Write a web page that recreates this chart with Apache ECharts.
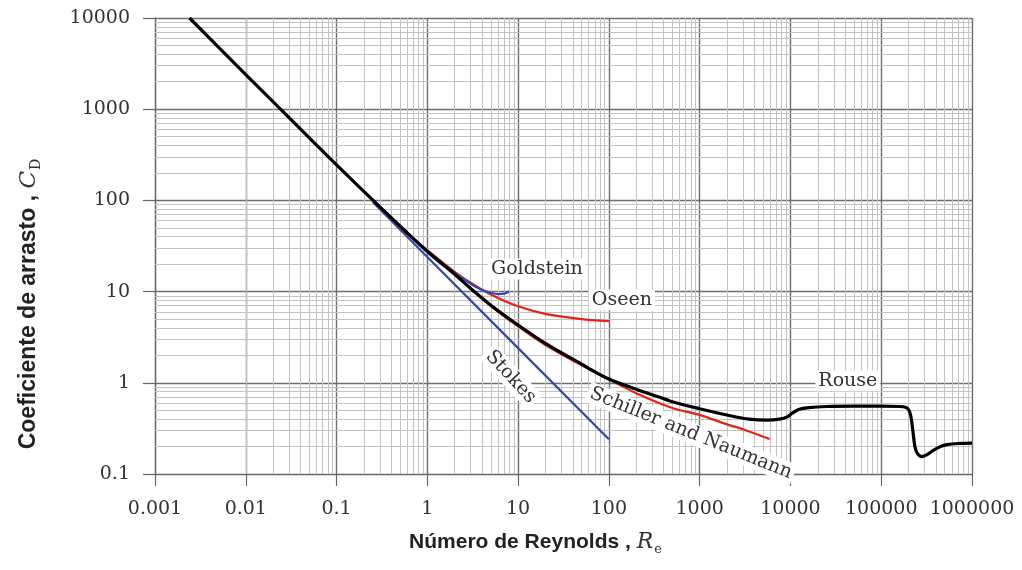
<!DOCTYPE html>
<html><head><meta charset="utf-8">
<script src="https://cdn.jsdelivr.net/npm/echarts@6/dist/echarts.min.js"></script>
<style>html,body{margin:0;padding:0;background:#fff}#c{width:1022px;height:570px}</style>
</head><body><div id="c"></div>
<script>
// ---- data ----
const xTickLabels = ['0.001','0.01','0.1','1','10','100','1000','10000','100000','1000000'];
const yTickLabels = ['0.1','1','10','100','1000','10000'];

// standard drag curve (black)
const blackRe = [0.0024, 0.01, 0.03, 0.1, 0.3, 1, 2, 3, 5, 10, 20, 50, 100, 200, 300, 500, 1000, 2300, 3500, 5500, 7600, 9100, 10500, 12300, 16000, 25000, 50000, 100000, 160000, 185000, 200000, 212000, 223000, 235000, 250000, 280000, 320000, 370000, 450000, 530000, 700000, 1000000];
const blackCd = [10000, 2400, 810, 245, 85, 27.5, 15.5, 10.8, 7.1, 4.3, 2.7, 1.6, 1.1, 0.85, 0.74, 0.62, 0.52, 0.43, 0.40, 0.39, 0.40, 0.42, 0.465, 0.51, 0.535, 0.55, 0.555, 0.555, 0.55, 0.54, 0.51, 0.43, 0.3, 0.2, 0.168, 0.155, 0.163, 0.18, 0.2, 0.21, 0.216, 0.218];

// Stokes (blue)
const stokesRe = [0.25, 1, 10, 100];
const stokesCd = [96, 24, 2.4, 0.24];

// Goldstein (blue)
const goldRe = [0.3, 0.5, 1, 2, 3, 4, 5, 6, 7, 8];
const goldCd = [84, 52, 28.2, 16.1, 12.2, 10.4, 9.7, 9.4, 9.5, 10];

// Oseen (red)
const oseenRe = [0.3, 0.5, 1, 2, 3, 5, 10, 20, 50, 100];
const oseenCd = [84.5, 50.3, 28.5, 16.5, 12.5, 9.3, 6.9, 5.7, 5.0, 4.74];

// Schiller and Naumann (red)
const snRe = [1, 2, 5, 10, 20, 50, 100, 200, 500, 1000, 2000, 3000, 5900];
const snCd = [27.6, 15.5, 6.98, 4.15, 2.6, 1.56, 1.09, 0.77, 0.53, 0.445, 0.35, 0.31, 0.242];

// curve annotations (data coordinates)
const annNames = ['Goldstein', 'Oseen', 'Stokes', 'Schiller and Naumann', 'Rouse'];
const annRe = [16.1, 139, 8.3, 800, 42900];
const annCd = [17.7, 8.1, 1.16, 0.28, 1.05];
const annRot = [0, 0, -47, -22, 0];

// ---- chart ----
const zip = (a, b) => a.map((v, i) => [v, b[i]]);
const mults = [2, 3, 4, 5, 6, 7, 8, 9];
const minorX = [], minorY = [];
for (let e = -3; e < 6; e++) mults.forEach(m => minorX.push({xAxis: m * Math.pow(10, e)}));
for (let e = -1; e < 4; e++) mults.forEach(m => minorY.push({yAxis: m * Math.pow(10, e)}));

const serif = "'DejaVu Serif', 'Liberation Serif', serif";
const sans = "'Liberation Sans', Arial, sans-serif";

const chart = echarts.init(document.getElementById('c'), null, {renderer: 'canvas'});
chart.setOption({
  animation: false,
  backgroundColor: '#fff',
  grid: {left: 155, right: 50, top: 18, bottom: 96, containLabel: false},
  xAxis: {
    type: 'log', logBase: 10, min: 0.001, max: 1000000,
    splitNumber: 9,
    axisLine: {show: true, lineStyle: {color: '#666', width: 1.2}},
    axisTick: {show: true, length: 12, lineStyle: {color: '#666', width: 1.2}},
    splitLine: {show: true, lineStyle: {color: '#6e6e6e', width: 1.4}},
    axisLabel: {
      margin: 26, fontFamily: serif, fontSize: 19, color: '#333',
      formatter: v => xTickLabels[Math.round(Math.log10(v)) + 3]
    },
    name: '{t|Número de Reynolds , }{r|R}{s|e}',
    nameLocation: 'middle', nameGap: 55,
    nameTextStyle: {
      padding: [0, 56, 0, 0],
      rich: {
        t: {fontFamily: sans, fontWeight: 'bold', fontSize: 21, color: '#222'},
        r: {fontFamily: serif, fontStyle: 'italic', fontSize: 22, color: '#333'},
        s: {fontFamily: serif, fontSize: 13, color: '#333', padding: [14, 0, 0, 1]}
      }
    }
  },
  yAxis: {
    type: 'log', logBase: 10, min: 0.1, max: 10000,
    splitNumber: 5,
    axisLine: {show: true, lineStyle: {color: '#666', width: 1.2}},
    axisTick: {show: true, length: 12, lineStyle: {color: '#666', width: 1.2}},
    splitLine: {show: true, lineStyle: {color: '#6e6e6e', width: 1.4}},
    axisLabel: {
      margin: 25, fontFamily: serif, fontSize: 19, color: '#333',
      formatter: v => yTickLabels[Math.round(Math.log10(v)) + 1]
    },
    name: '{t|Coeficiente de arrasto , }{r|C}{s|D}',
    nameLocation: 'middle', nameGap: 112, nameRotate: 90,
    nameTextStyle: {
      padding: [0, 116, 0, 0],
      rich: {
        t: {fontFamily: sans, fontWeight: 'bold', fontSize: 23, color: '#222'},
        r: {fontFamily: serif, fontStyle: 'italic', fontSize: 23, color: '#333'},
        s: {fontFamily: serif, fontSize: 14, color: '#333', padding: [14, 0, 0, 1]}
      }
    }
  },
  series: [
    {
      name: 'grid', type: 'line', data: [], silent: true, z: 1,
      markLine: {
        silent: true, z: 1, symbol: ['none', 'none'], animation: false,
        label: {show: false},
        lineStyle: {color: '#c2c2c2', width: 1, type: 'solid'},
        emphasis: {disabled: true},
        data: minorX.concat(minorY)
      }
    },
    {
      name: 'Schiller and Naumann', type: 'line', z: 3, data: zip(snRe, snCd),
      smooth: 0.3, showSymbol: false, symbol: 'none',
      lineStyle: {color: '#e2231a', width: 2.2}
    },
    {
      name: 'Oseen', type: 'line', z: 3, data: zip(oseenRe, oseenCd),
      smooth: 0.3, showSymbol: false, symbol: 'none',
      lineStyle: {color: '#e2231a', width: 2.2}
    },
    {
      name: 'Stokes', type: 'line', z: 4, data: zip(stokesRe, stokesCd),
      showSymbol: false, symbol: 'none',
      lineStyle: {color: '#3447b0', width: 2.2}
    },
    {
      name: 'Goldstein', type: 'line', z: 4, data: zip(goldRe, goldCd),
      smooth: 0.3, showSymbol: false, symbol: 'none',
      lineStyle: {color: '#3447b0', width: 2.2}
    },
    {
      name: 'Standard', type: 'line', z: 5, data: zip(blackRe, blackCd),
      smooth: 0.3, showSymbol: false, symbol: 'none',
      lineStyle: {color: '#000', width: 3.2},
      markPoint: {
        z: 10, silent: true, animation: false,
        symbol: 'rect', symbolSize: 1, itemStyle: {color: 'rgba(0,0,0,0)'},
        label: {
          show: true, position: 'inside', formatter: '{b}',
          fontFamily: serif, fontSize: 19, color: '#333',
          backgroundColor: '#fff', padding: [1, 3]
        },
        data: annNames.map((n, i) => ({
          name: n, coord: [annRe[i], annCd[i]],
          label: {rotate: annRot[i]}
        }))
      }
    }
  ]
});
</script>
</body></html>
